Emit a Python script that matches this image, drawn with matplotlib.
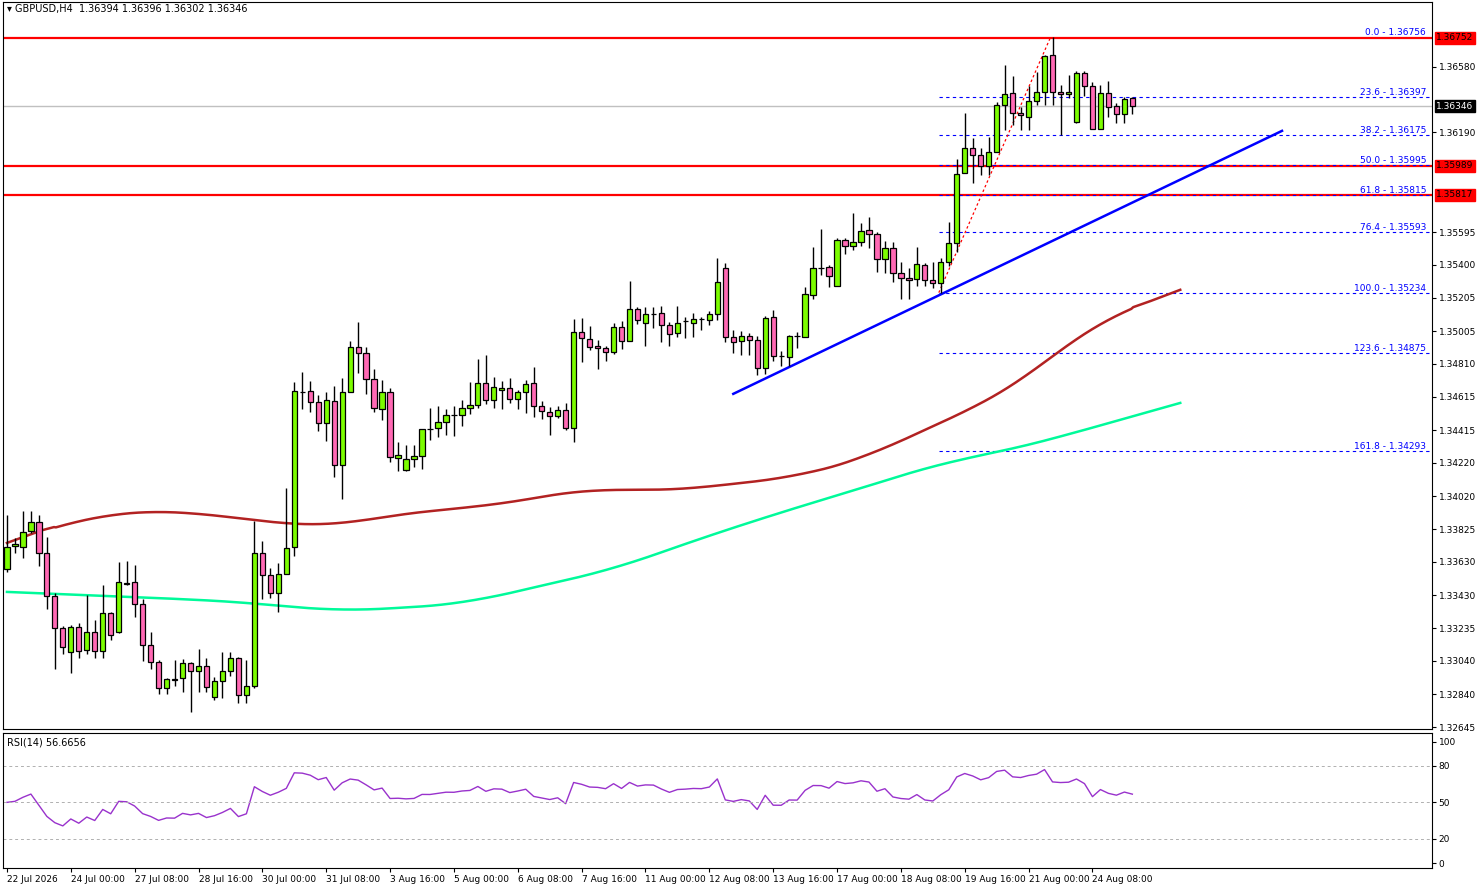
import numpy as np
import matplotlib
matplotlib.use('Agg')
import matplotlib.pyplot as plt

# GBPUSD H4 candles, prices in 1e-5 units
opens = [133588,133725,133719,133814,133868,133683,133427,133236,133093,133242,133105,133212,133099,133326,133212,133504,133510,133379,133135,133033,
         132879,132932,132938,133027,132980,133010,132825,132920,132980,133057,132837,132890,133683,133552,133445,133558,133719,134643,134649,134583,
         134458,134589,134208,134643,134911,134875,134720,134541,134643,134249,134178,134243,134261,134422,134428,134464,134506,134506,134547,134565,
         134696,134595,134655,134667,134601,134643,134696,134559,134523,134500,134535,134428,135000,134959,134917,134905,134881,135030,134947,135137,
         135054,135108,135113,135042,134994,135066,135054,135078,135072,135108,135382,134970,134947,134976,134953,134786,135090,134857,134851,134976,
         134970,135221,135382,135388,135274,135549,135513,135537,135608,135584,135435,135501,135352,135322,135316,135400,135310,135292,135418,135531,
         135948,136097,136055,135990,136073,136353,136425,136306,136282,136377,136431,136651,136431,136419,136252,136544,136467,136210,136425,136347,
         136300,136395]
highs = [133910,133772,133933,133933,133910,133779,133445,133248,133254,133266,133433,133284,133492,133332,133629,133635,133612,133409,133212,133045,
         132938,133045,133051,133033,133111,133057,132944,133093,133093,133063,133045,133874,133755,133594,133624,134071,134702,134762,134708,134625,
         134643,134678,134726,134947,135060,134911,134780,134714,134667,134345,134327,134327,134422,134547,134559,134541,134559,134595,134702,134839,
         134863,134732,134708,134726,134655,134714,134792,134589,134553,134559,134577,135078,135084,135036,134953,134917,135054,135066,135304,135149,
         135149,135149,135155,135060,135155,135090,135113,135090,135125,135441,135412,135012,135006,134994,134976,135096,135131,134887,134982,135000,
         135268,135507,135614,135400,135561,135561,135710,135650,135686,135596,135543,135537,135418,135382,135507,135412,135418,135441,135656,136031,
         136305,136156,136097,136162,136371,136592,136526,136341,136466,136550,136651,136756,136472,136532,136556,136556,136490,136472,136496,136365,
         136401,136401]
lows = [133570,133683,133653,133802,133606,133349,132992,133081,132968,133057,133081,133057,133057,133165,133206,133492,133302,133040,132992,132843,
        132843,132890,132855,132736,132855,132855,132807,132819,132950,132789,132789,132879,133409,133415,133332,133558,133665,134541,134523,134410,
        134351,134136,134005,134643,134756,134631,134523,134476,134226,134172,134172,134196,134184,134357,134375,134386,134380,134440,134512,134547,
        134571,134547,134541,134577,134541,134518,134494,134482,134386,134488,134416,134345,134822,134893,134780,134827,134869,134899,134947,135048,
        134917,135024,134941,134917,134970,134964,134970,135012,135042,135072,134941,134875,134863,134863,134744,134750,134827,134798,134798,134905,
        134970,135197,135340,135268,135274,135465,135489,135513,135501,135358,135352,135298,135197,135197,135274,135274,135262,135234,135394,135477,
        135948,135888,135936,135936,136073,136204,136234,136204,136204,136353,136353,136353,136174,136395,136246,136407,136210,136210,136282,136246,
        136246,136300]
closes = [133719,133737,133808,133868,133683,133427,133236,133123,133242,133099,133212,133099,133326,133194,133510,133498,133379,133135,133033,132879,
          132932,132926,133027,132980,133010,132885,132920,132980,133057,132837,132890,133683,133552,133445,133558,133713,134649,134640,134583,134458,
          134595,134208,134643,134911,134875,134720,134547,134643,134255,134267,134243,134261,134422,134420,134464,134506,134504,134547,134565,134696,
          134595,134673,134667,134601,134643,134690,134559,134529,134500,134535,134428,135000,134964,134911,134905,134881,135030,134947,135137,135072,
          135108,135105,135042,134988,135054,135063,135078,135075,135108,135298,134970,134941,134976,134953,134786,135084,134857,134855,134976,134974,
          135227,135382,135380,135334,135549,135513,135537,135603,135584,135435,135501,135352,135322,135310,135406,135310,135292,135418,135531,135942,
          136097,136055,135990,136073,136353,136419,136306,136294,136377,136431,136645,136431,136419,136431,136544,136467,136210,136425,136341,136300,
          136389,136346]

# moving averages (bar index, price)
ma_red_idx = [0, 4.5, 10.8, 15.8, 20.8, 25.8, 30.8, 37, 42, 47, 52, 59.5, 67, 72, 74.5, 79.5, 83, 89.5, 95.8, 99.5,
              103, 108, 112, 117, 123, 128, 133, 138, 143, 147]
ma_red_val = [133743,133820,133898,133933,133933,133910,133880,133844,133850,133898,133933,133957,134017,134059,134071,134053,
              134053,134088,134118,134142,134190,134255,134351,134464,134583,134738,134935,135096,135179,135251]
ma_grn_idx = [0, 12, 22, 31, 37, 41, 49.5, 58, 64.5, 75.8, 87, 99.5, 108, 117, 124.5, 132, 139.5, 147]
ma_grn_val = [133451,133427,133409,133385,133355,133337,133355,133385,133463,133582,133772,133963,134082,134220,134285,134375,134477,134577]

levels_red = [1.36752, 1.35989, 1.35817]
fib_pct = [0.0, 23.6, 38.2, 50.0, 61.8, 76.4, 100.0, 123.6, 161.8]
fib_val = [1.36756, 1.36397, 1.36175, 1.35995, 1.35815, 1.35593, 1.35234, 1.34875, 1.34293]
yticks = [1.36580, 1.36190, 1.35595, 1.35400, 1.35205, 1.35005, 1.34810, 1.34615,
          1.34415, 1.34220, 1.34020, 1.33825, 1.33630, 1.33430, 1.33235, 1.33040, 1.32840, 1.32645]
date_labels = ['22 Jul 2026', '24 Jul 00:00', '27 Jul 08:00', '28 Jul 16:00', '30 Jul 00:00', '31 Jul 08:00',
               '3 Aug 16:00', '5 Aug 00:00', '6 Aug 08:00', '7 Aug 16:00', '11 Aug 00:00', '12 Aug 08:00',
               '13 Aug 16:00', '17 Aug 00:00', '18 Aug 08:00', '19 Aug 16:00', '21 Aug 00:00', '24 Aug 08:00']

o = np.array(opens) / 1e5
h = np.array(highs) / 1e5
l = np.array(lows) / 1e5
c = np.array(closes) / 1e5
n = len(c)
x = np.arange(n)


def smooth_line(idx, val):
    gx = np.linspace(idx[0], idx[-1], 600)
    gy = np.interp(gx, idx, np.array(val) / 1e5)
    k = 25
    pad = np.concatenate([np.full(k, gy[0]), gy, np.full(k, gy[-1])])
    sy = np.convolve(pad, np.ones(2 * k + 1) / (2 * k + 1), mode='same')[k:-k]
    sy[:k] = gy[:k]
    sy[-k:] = gy[-k:]
    return gx, sy


fig = plt.figure(figsize=(14.79, 8.88), dpi=100)
ax = fig.add_axes([0.002, 0.179, 0.966, 0.819])
ax2 = fig.add_axes([0.002, 0.0225, 0.966, 0.152])
for a in (ax, ax2):
    for s in a.spines.values():
        s.set_color('black')
        s.set_linewidth(0.8)
    a.set_xlim(-0.5, 178.5)

ax.set_ylim(1.32634, 1.36967)

# horizontal lines
ax.axhline(c[-1], color='#c0c0c0', lw=1, zorder=1)
for lv in levels_red:
    ax.axhline(lv, color='red', lw=1.6, zorder=2)
fib_start = 116.75
for p, v in zip(fib_pct[1:], fib_val[1:]):
    ax.hlines(v, fib_start, 178.5, colors='blue', linestyles=(0, (3, 3)), lw=0.8, zorder=2)
for p, v in zip(fib_pct, fib_val):
    ax.text(177.8, v, '%.1f - %.5f' % (p, v), color='blue', fontsize=6.5, ha='right', va='bottom')
ax.plot([fib_start, 130.75], [fib_val[6], fib_val[0]], color='red', ls=(0, (2, 2)), lw=0.9, zorder=3)

# moving averages
ax.plot(*smooth_line(ma_red_idx, ma_red_val), color='#b22222', lw=1.8, zorder=2)
ax.plot(*smooth_line(ma_grn_idx, ma_grn_val), color='#00fa9a', lw=1.8, zorder=2)

# trend line
ax.plot([91, 159.75], [1.34631, 1.36198], color='blue', lw=1.8, zorder=3)

# candles
up = c >= o
ax.vlines(x, l, h, color='black', lw=1, zorder=4)
body_lo = np.minimum(o, c)
body_h = np.maximum(np.abs(c - o), 0.00002)
ax.bar(x, body_h, bottom=body_lo, width=0.66, color=np.where(up, '#7cfc00', '#ff69b4'),
       edgecolor='black', linewidth=0.9, zorder=5)

ax.yaxis.tick_right()
ax.set_yticks(yticks)
ax.set_yticklabels(['%.5f' % t for t in yticks], fontsize=6.5)
ax.tick_params(axis='y', length=3, pad=2)
ax.set_xticks([])

# right price tags
for lv in levels_red:
    ax.text(1.003, lv, '%.5f' % lv, transform=ax.get_yaxis_transform(), fontsize=6.5, color='black',
            va='center', ha='left', bbox=dict(boxstyle='square,pad=0.15', fc='red', ec='red'))
ax.text(1.003, c[-1], '%.5f' % c[-1], transform=ax.get_yaxis_transform(), fontsize=6.5, color='white',
        va='center', ha='left', bbox=dict(boxstyle='square,pad=0.15', fc='black', ec='black'))

ax.text(0.003, 0.997, '\u25be GBPUSD,H4  1.36394 1.36396 1.36302 1.36346', transform=ax.transAxes,
        fontsize=7, va='top', ha='left')

# RSI(14)
d = np.diff(c, prepend=c[0])
gain = np.clip(d, 0, None)
loss = np.clip(-d, 0, None)
ag = np.zeros(n)
al = np.zeros(n)
ag[0], al[0] = 0.0004, 0.0004
for i in range(1, n):
    ag[i] = (ag[i - 1] * 13 + gain[i]) / 14
    al[i] = (al[i - 1] * 13 + loss[i]) / 14
rsi = 100 - 100 / (1 + ag / al)
ax2.plot(x, rsi, color='#9932cc', lw=1)
ax2.set_ylim(-4, 107)
for lv in (80, 50, 20):
    ax2.axhline(lv, color='#b0b0b0', ls=(0, (3, 3)), lw=0.7)
ax2.yaxis.tick_right()
ax2.set_yticks([100, 80, 50, 20, 0])
ax2.set_yticklabels(['100', '80', '50', '20', '0'], fontsize=6.5)
ax2.tick_params(axis='y', length=3, pad=2)
ax2.text(0.003, 0.97, 'RSI(14) 56.6656', transform=ax2.transAxes, fontsize=7, va='top', ha='left')

ticks = np.arange(len(date_labels)) * 8
ax2.set_xticks(ticks)
ax2.set_xticklabels(date_labels, fontsize=6.5, ha='left')
ax2.tick_params(axis='x', length=3, pad=2)

fig.savefig('out.png', dpi=100)
